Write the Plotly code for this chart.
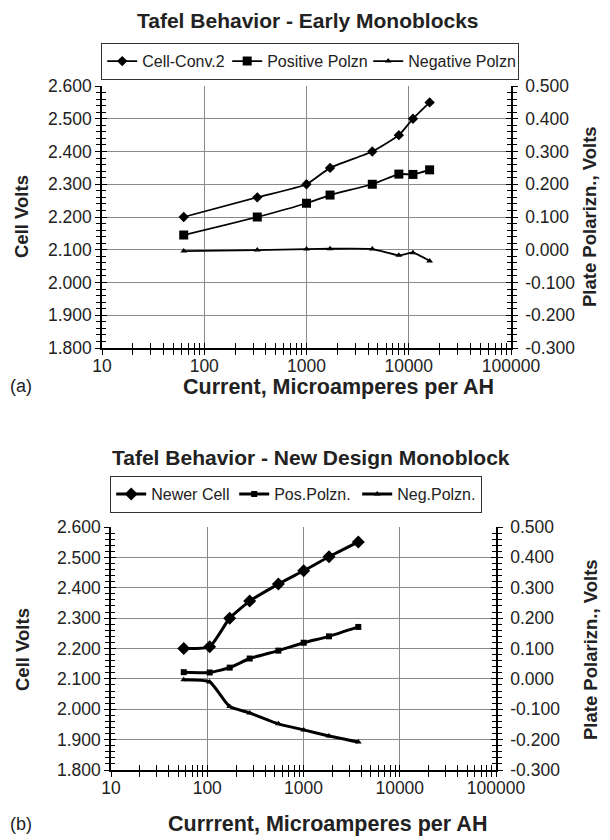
import plotly.graph_objects as go

# ---------------- data (top chart: Early Monoblocks) ----------------
top_current = [63, 330, 1000, 1700, 4400, 8000, 11000, 16000]
top_cell = [2.200, 2.260, 2.300, 2.350, 2.400, 2.450, 2.500, 2.550]
top_pos = [0.045, 0.100, 0.142, 0.167, 0.200, 0.231, 0.230, 0.244]
top_neg = [-0.004, -0.001, 0.002, 0.003, 0.002, -0.017, -0.009, -0.034]

# ---------------- data (bottom chart: New Design Monoblock) ----------------
bot_current = [57, 106, 171, 276, 548, 1005, 1840, 3710]
bot_cell = [2.200, 2.206, 2.300, 2.356, 2.412, 2.456, 2.502, 2.551]
bot_pos = [0.022, 0.021, 0.037, 0.067, 0.093, 0.119, 0.140, 0.171]
bot_neg = [-0.003, -0.010, -0.091, -0.112, -0.148, -0.168, -0.188, -0.208]

# ---------------- axis scales / tick labels ----------------
left_range = [1.8, 2.6]
right_range = [-0.3, 0.5]
x_log_range = [1, 5]
right_tickvals = [-0.3, -0.2, -0.1, 0.0, 0.1, 0.2, 0.3, 0.4, 0.5]
right_ticktext = ["-0.300", "-0.200", "-0.100", "0.000", "0.100", "0.200", "0.300", "0.400", "0.500"]

FONT = "Liberation Sans, Arial, sans-serif"
TXT = "#222222"
W, H = 610, 840

def px_x(v):
    return v / W

def px_y(v):
    return 1 - v / H

fig = go.Figure()

# top chart traces
fig.add_trace(go.Scatter(x=top_current, y=top_cell, name="Cell-Conv.2", mode="lines+markers",
                         line=dict(color="black", width=1.8, shape="spline", smoothing=0.5),
                         marker=dict(symbol="diamond", size=8, color="black"),
                         xaxis="x", yaxis="y", legend="legend", legendwidth=80))
fig.add_trace(go.Scatter(x=top_current, y=top_pos, name="Positive Polzn", mode="lines+markers",
                         line=dict(color="black", width=1.8, shape="spline", smoothing=0.5),
                         marker=dict(symbol="square", size=9, color="black"),
                         xaxis="x", yaxis="y2", legend="legend", legendwidth=96))
fig.add_trace(go.Scatter(x=top_current, y=top_neg, name="Negative Polzn", mode="lines+markers",
                         line=dict(color="black", width=1.8, shape="spline", smoothing=0.5),
                         marker=dict(symbol="triangle-up", size=6, color="black"),
                         xaxis="x", yaxis="y2", legend="legend", legendwidth=104))

# bottom chart traces
fig.add_trace(go.Scatter(x=bot_current, y=bot_cell, name="Newer Cell", mode="lines+markers",
                         line=dict(color="black", width=3, shape="spline", smoothing=0.5),
                         marker=dict(symbol="diamond", size=10, color="black"),
                         xaxis="x2", yaxis="y5", legend="legend2"))
fig.add_trace(go.Scatter(x=bot_current, y=bot_pos, name="Pos.Polzn.", mode="lines+markers",
                         line=dict(color="black", width=3, shape="spline", smoothing=0.5),
                         marker=dict(symbol="square", size=6, color="black"),
                         xaxis="x2", yaxis="y6", legend="legend2"))
fig.add_trace(go.Scatter(x=bot_current, y=bot_neg, name="Neg.Polzn.", mode="lines+markers",
                         line=dict(color="black", width=3, shape="spline", smoothing=0.5),
                         marker=dict(symbol="triangle-up", size=6, color="black"),
                         xaxis="x2", yaxis="y6", legend="legend2"))

# dummy traces so that the overlay (inside-tick) axes are created
for xa, ya in [("x3", "y3"), ("x3", "y4"), ("x4", "y7"), ("x4", "y8")]:
    fig.add_trace(go.Scatter(x=[None], y=[None], xaxis=xa, yaxis=ya, showlegend=False,
                             hoverinfo="skip", mode="markers"))

tickfont = dict(family=FONT, size=17.5, color=TXT)

def xmain(domain, anchor):
    return dict(type="log", range=x_log_range, domain=domain, anchor=anchor, dtick=1,
                tickformat="d", tickfont=tickfont, ticks="outside", ticklen=5,
                ticklabelstandoff=-4,
                tickcolor="black", tickwidth=1.2,
                showline=True, linecolor="black", linewidth=1.5,
                showgrid=True, gridcolor="#8a8a8a", gridwidth=1, zeroline=False,
                minor=dict(dtick="D1", ticks="outside", ticklen=5, tickcolor="black",
                           tickwidth=1.2, showgrid=False))

def xover(over, anchor):
    return dict(type="log", range=x_log_range, overlaying=over, anchor=anchor, side="bottom",
                dtick=1, showticklabels=False, ticks="inside", ticklen=5, tickcolor="black",
                tickwidth=1.2, showline=False, showgrid=False, zeroline=False,
                minor=dict(dtick="D1", ticks="inside", ticklen=5, tickcolor="black",
                           tickwidth=1.2, showgrid=False))

def yleft(domain, anchor):
    return dict(range=left_range, domain=domain, anchor=anchor, side="left", dtick=0.1,
                tickformat=".3f", tickfont=tickfont, ticks="outside", ticklen=5,
                tickcolor="black", tickwidth=1.2,
                showline=True, linecolor="black", linewidth=1.5,
                showgrid=True, gridcolor="#8a8a8a", gridwidth=1, zeroline=False,
                minor=dict(dtick=0.02, ticks="outside", ticklen=4, tickcolor="black",
                           tickwidth=1, showgrid=False))

def yright(over, anchor):
    return dict(range=right_range, overlaying=over, anchor=anchor, side="right",
                tickmode="array", tickvals=right_tickvals, ticktext=right_ticktext,
                tickfont=tickfont, ticks="outside", ticklen=5, ticklabelstandoff=4,
                tickcolor="black", tickwidth=1.2,
                showline=True, linecolor="black", linewidth=1.5,
                showgrid=False, zeroline=False,
                minor=dict(dtick=0.02, ticks="outside", ticklen=4, tickcolor="black",
                           tickwidth=1, showgrid=False))

def yover(rng, over, anchor, side):
    return dict(range=rng, overlaying=over, anchor=anchor, side=side, dtick=0.1,
                showticklabels=False, ticks="inside", ticklen=5, tickcolor="black",
                tickwidth=1.2, showline=False, showgrid=False, zeroline=False,
                minor=dict(dtick=0.02, ticks="inside", ticklen=4, tickcolor="black",
                           tickwidth=1, showgrid=False))

top_xdom = [px_x(102), px_x(511)]
top_ydom = [px_y(348), px_y(86)]
bot_xdom = [px_x(111), px_x(496)]
bot_ydom = [px_y(770), px_y(527)]

fig.update_layout(
    width=W, height=H, autosize=False,
    margin=dict(l=0, r=0, t=0, b=0, pad=0, autoexpand=False),
    paper_bgcolor="white", plot_bgcolor="white",
    font=dict(family=FONT, color=TXT),
    xaxis=xmain(top_xdom, "y"),
    yaxis=yleft(top_ydom, "x"),
    yaxis2=yright("y", "x"),
    xaxis3=xover("x", "y"),
    yaxis3=yover(left_range, "y", "x", "left"),
    yaxis4=yover(right_range, "y", "x", "right"),
    xaxis2=xmain(bot_xdom, "y5"),
    yaxis5=yleft(bot_ydom, "x2"),
    yaxis6=yright("y5", "x2"),
    xaxis4=xover("x2", "y5"),
    yaxis7=yover(left_range, "y5", "x2", "left"),
    yaxis8=yover(right_range, "y5", "x2", "right"),
    legend=dict(orientation="h", x=px_x(310), xanchor="center", y=px_y(43), yanchor="top",
                bordercolor="#333333", borderwidth=1.2, bgcolor="white",
                font=dict(family=FONT, size=16, color=TXT), itemwidth=30,
                tracegroupgap=0),
    legend2=dict(orientation="h", x=px_x(296), xanchor="center", y=px_y(476), yanchor="top",
                 bordercolor="#333333", borderwidth=1.2, bgcolor="white",
                 font=dict(family=FONT, size=16, color=TXT), itemwidth=30,
                 entrywidth=78),
    showlegend=True,
)

title_font = dict(family=FONT, size=21, color=TXT)
vt_font = dict(family=FONT, size=18.5, color=TXT)
ht_font = dict(family=FONT, size=21.5, color=TXT)
lab_font = dict(family=FONT, size=18, color=TXT)
annots = [
    ("<b>Tafel Behavior - Early Monoblocks</b>", 308, 20, 0, title_font),
    ("<b>Tafel Behavior - New Design Monoblock</b>", 311, 458, 0, title_font),
    ("<b>Cell Volts</b>", 22, 217, -90, vt_font),
    ("<b>Cell Volts</b>", 22, 650, -90, vt_font),
    ("<b>Plate Polarizn., Volts</b>", 590, 217, -90, vt_font),
    ("<b>Plate Polarizn., Volts</b>", 590, 650, -90, vt_font),
    ("<b>Current, Microamperes per AH</b>", 338, 387, 0, ht_font),
    ("<b>Currrent, Microamperes per AH</b>", 327, 824, 0, ht_font),
    ("(a)", 21, 386, 0, lab_font),
    ("(b)", 21, 824, 0, lab_font),
]
for text, xx, yy, ang, f in annots:
    fig.add_annotation(text=text, x=px_x(xx), y=px_y(yy), xref="paper", yref="paper",
                       showarrow=False, textangle=ang, font=f,
                       xanchor="center", yanchor="middle")

fig.write_html("out.html")
